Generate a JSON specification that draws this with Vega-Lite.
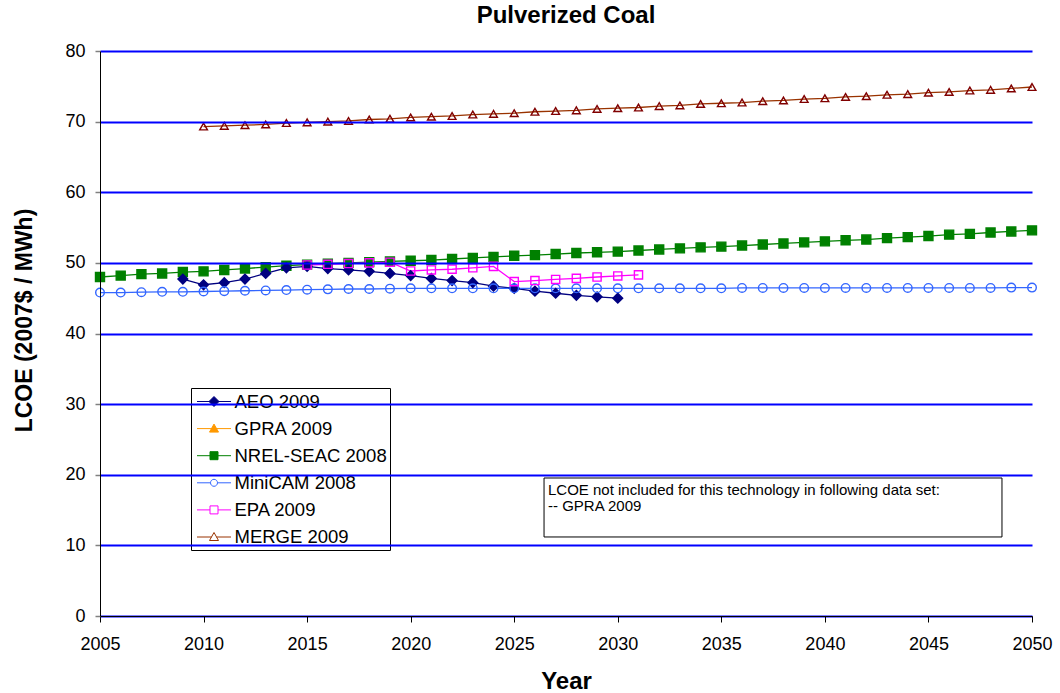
{
  "$schema": "https://vega.github.io/schema/vega-lite/v6.json",
  "width": 932,
  "height": 565,
  "autosize": "none",
  "padding": {"left": 100, "top": 51, "right": 28, "bottom": 77},
  "background": "white",
  "title": {"text": "Pulverized Coal", "fontSize": 24, "font": "Liberation Sans", "fontWeight": "bold", "color": "black", "anchor": "middle", "baseline": "alphabetic", "offset": -5},
  "config": {
    "view": {"stroke": null},
    "font": "Liberation Sans",
    "legend": {"orient": "none", "legendX": 91, "legendY": 337}
  },
  "data": {"values": [
    {"series": "NREL-SEAC 2008", "year": 2005, "value": 48.0},
    {"series": "NREL-SEAC 2008", "year": 2006, "value": 48.2},
    {"series": "NREL-SEAC 2008", "year": 2007, "value": 48.4},
    {"series": "NREL-SEAC 2008", "year": 2008, "value": 48.5},
    {"series": "NREL-SEAC 2008", "year": 2009, "value": 48.7},
    {"series": "NREL-SEAC 2008", "year": 2010, "value": 48.8},
    {"series": "NREL-SEAC 2008", "year": 2011, "value": 49.0},
    {"series": "NREL-SEAC 2008", "year": 2012, "value": 49.2},
    {"series": "NREL-SEAC 2008", "year": 2013, "value": 49.4},
    {"series": "NREL-SEAC 2008", "year": 2014, "value": 49.6},
    {"series": "NREL-SEAC 2008", "year": 2015, "value": 49.75},
    {"series": "NREL-SEAC 2008", "year": 2016, "value": 49.9},
    {"series": "NREL-SEAC 2008", "year": 2017, "value": 50.0},
    {"series": "NREL-SEAC 2008", "year": 2018, "value": 50.1},
    {"series": "NREL-SEAC 2008", "year": 2019, "value": 50.2},
    {"series": "NREL-SEAC 2008", "year": 2020, "value": 50.3},
    {"series": "NREL-SEAC 2008", "year": 2021, "value": 50.4},
    {"series": "NREL-SEAC 2008", "year": 2022, "value": 50.55},
    {"series": "NREL-SEAC 2008", "year": 2023, "value": 50.7},
    {"series": "NREL-SEAC 2008", "year": 2024, "value": 50.85},
    {"series": "NREL-SEAC 2008", "year": 2025, "value": 51.0},
    {"series": "NREL-SEAC 2008", "year": 2026, "value": 51.1},
    {"series": "NREL-SEAC 2008", "year": 2027, "value": 51.25},
    {"series": "NREL-SEAC 2008", "year": 2028, "value": 51.4},
    {"series": "NREL-SEAC 2008", "year": 2029, "value": 51.5},
    {"series": "NREL-SEAC 2008", "year": 2030, "value": 51.6},
    {"series": "NREL-SEAC 2008", "year": 2031, "value": 51.75},
    {"series": "NREL-SEAC 2008", "year": 2032, "value": 51.9},
    {"series": "NREL-SEAC 2008", "year": 2033, "value": 52.05},
    {"series": "NREL-SEAC 2008", "year": 2034, "value": 52.2},
    {"series": "NREL-SEAC 2008", "year": 2035, "value": 52.3},
    {"series": "NREL-SEAC 2008", "year": 2036, "value": 52.45},
    {"series": "NREL-SEAC 2008", "year": 2037, "value": 52.6},
    {"series": "NREL-SEAC 2008", "year": 2038, "value": 52.75},
    {"series": "NREL-SEAC 2008", "year": 2039, "value": 52.9},
    {"series": "NREL-SEAC 2008", "year": 2040, "value": 53.05},
    {"series": "NREL-SEAC 2008", "year": 2041, "value": 53.2},
    {"series": "NREL-SEAC 2008", "year": 2042, "value": 53.3},
    {"series": "NREL-SEAC 2008", "year": 2043, "value": 53.5},
    {"series": "NREL-SEAC 2008", "year": 2044, "value": 53.65},
    {"series": "NREL-SEAC 2008", "year": 2045, "value": 53.8},
    {"series": "NREL-SEAC 2008", "year": 2046, "value": 54.0},
    {"series": "NREL-SEAC 2008", "year": 2047, "value": 54.1},
    {"series": "NREL-SEAC 2008", "year": 2048, "value": 54.3},
    {"series": "NREL-SEAC 2008", "year": 2049, "value": 54.45},
    {"series": "NREL-SEAC 2008", "year": 2050, "value": 54.6},
    {"series": "AEO 2009", "year": 2009, "value": 47.7},
    {"series": "AEO 2009", "year": 2010, "value": 46.9},
    {"series": "AEO 2009", "year": 2011, "value": 47.2},
    {"series": "AEO 2009", "year": 2012, "value": 47.7},
    {"series": "AEO 2009", "year": 2013, "value": 48.5},
    {"series": "AEO 2009", "year": 2014, "value": 49.3},
    {"series": "AEO 2009", "year": 2015, "value": 49.5},
    {"series": "AEO 2009", "year": 2016, "value": 49.2},
    {"series": "AEO 2009", "year": 2017, "value": 49.0},
    {"series": "AEO 2009", "year": 2018, "value": 48.8},
    {"series": "AEO 2009", "year": 2019, "value": 48.5},
    {"series": "AEO 2009", "year": 2020, "value": 48.2},
    {"series": "AEO 2009", "year": 2021, "value": 47.8},
    {"series": "AEO 2009", "year": 2022, "value": 47.5},
    {"series": "AEO 2009", "year": 2023, "value": 47.2},
    {"series": "AEO 2009", "year": 2024, "value": 46.7},
    {"series": "AEO 2009", "year": 2025, "value": 46.4},
    {"series": "AEO 2009", "year": 2026, "value": 46.0},
    {"series": "AEO 2009", "year": 2027, "value": 45.7},
    {"series": "AEO 2009", "year": 2028, "value": 45.4},
    {"series": "AEO 2009", "year": 2029, "value": 45.2},
    {"series": "AEO 2009", "year": 2030, "value": 45.0},
    {"series": "MiniCAM 2008", "year": 2005, "value": 45.8},
    {"series": "MiniCAM 2008", "year": 2006, "value": 45.8},
    {"series": "MiniCAM 2008", "year": 2007, "value": 45.85},
    {"series": "MiniCAM 2008", "year": 2008, "value": 45.9},
    {"series": "MiniCAM 2008", "year": 2009, "value": 45.9},
    {"series": "MiniCAM 2008", "year": 2010, "value": 45.95},
    {"series": "MiniCAM 2008", "year": 2011, "value": 46.0},
    {"series": "MiniCAM 2008", "year": 2012, "value": 46.05},
    {"series": "MiniCAM 2008", "year": 2013, "value": 46.1},
    {"series": "MiniCAM 2008", "year": 2014, "value": 46.15},
    {"series": "MiniCAM 2008", "year": 2015, "value": 46.2},
    {"series": "MiniCAM 2008", "year": 2016, "value": 46.25},
    {"series": "MiniCAM 2008", "year": 2017, "value": 46.3},
    {"series": "MiniCAM 2008", "year": 2018, "value": 46.3},
    {"series": "MiniCAM 2008", "year": 2019, "value": 46.35},
    {"series": "MiniCAM 2008", "year": 2020, "value": 46.4},
    {"series": "MiniCAM 2008", "year": 2021, "value": 46.4},
    {"series": "MiniCAM 2008", "year": 2022, "value": 46.4},
    {"series": "MiniCAM 2008", "year": 2023, "value": 46.4},
    {"series": "MiniCAM 2008", "year": 2024, "value": 46.4},
    {"series": "MiniCAM 2008", "year": 2025, "value": 46.4},
    {"series": "MiniCAM 2008", "year": 2026, "value": 46.4},
    {"series": "MiniCAM 2008", "year": 2027, "value": 46.4},
    {"series": "MiniCAM 2008", "year": 2028, "value": 46.4},
    {"series": "MiniCAM 2008", "year": 2029, "value": 46.4},
    {"series": "MiniCAM 2008", "year": 2030, "value": 46.4},
    {"series": "MiniCAM 2008", "year": 2031, "value": 46.4},
    {"series": "MiniCAM 2008", "year": 2032, "value": 46.4},
    {"series": "MiniCAM 2008", "year": 2033, "value": 46.4},
    {"series": "MiniCAM 2008", "year": 2034, "value": 46.4},
    {"series": "MiniCAM 2008", "year": 2035, "value": 46.4},
    {"series": "MiniCAM 2008", "year": 2036, "value": 46.45},
    {"series": "MiniCAM 2008", "year": 2037, "value": 46.45},
    {"series": "MiniCAM 2008", "year": 2038, "value": 46.45},
    {"series": "MiniCAM 2008", "year": 2039, "value": 46.45},
    {"series": "MiniCAM 2008", "year": 2040, "value": 46.45},
    {"series": "MiniCAM 2008", "year": 2041, "value": 46.45},
    {"series": "MiniCAM 2008", "year": 2042, "value": 46.45},
    {"series": "MiniCAM 2008", "year": 2043, "value": 46.45},
    {"series": "MiniCAM 2008", "year": 2044, "value": 46.45},
    {"series": "MiniCAM 2008", "year": 2045, "value": 46.45},
    {"series": "MiniCAM 2008", "year": 2046, "value": 46.45},
    {"series": "MiniCAM 2008", "year": 2047, "value": 46.45},
    {"series": "MiniCAM 2008", "year": 2048, "value": 46.45},
    {"series": "MiniCAM 2008", "year": 2049, "value": 46.5},
    {"series": "MiniCAM 2008", "year": 2050, "value": 46.5},
    {"series": "EPA 2009", "year": 2015, "value": 49.7},
    {"series": "EPA 2009", "year": 2016, "value": 49.8},
    {"series": "EPA 2009", "year": 2017, "value": 49.9},
    {"series": "EPA 2009", "year": 2018, "value": 50.0},
    {"series": "EPA 2009", "year": 2019, "value": 50.1},
    {"series": "EPA 2009", "year": 2020, "value": 48.85},
    {"series": "EPA 2009", "year": 2021, "value": 49.0},
    {"series": "EPA 2009", "year": 2022, "value": 49.1},
    {"series": "EPA 2009", "year": 2023, "value": 49.3},
    {"series": "EPA 2009", "year": 2024, "value": 49.5},
    {"series": "EPA 2009", "year": 2025, "value": 47.35},
    {"series": "EPA 2009", "year": 2026, "value": 47.5},
    {"series": "EPA 2009", "year": 2027, "value": 47.65},
    {"series": "EPA 2009", "year": 2028, "value": 47.8},
    {"series": "EPA 2009", "year": 2029, "value": 48.0},
    {"series": "EPA 2009", "year": 2030, "value": 48.15},
    {"series": "EPA 2009", "year": 2031, "value": 48.3},
    {"series": "MERGE 2009", "year": 2010, "value": 69.3},
    {"series": "MERGE 2009", "year": 2011, "value": 69.4},
    {"series": "MERGE 2009", "year": 2012, "value": 69.5},
    {"series": "MERGE 2009", "year": 2013, "value": 69.6},
    {"series": "MERGE 2009", "year": 2014, "value": 69.8},
    {"series": "MERGE 2009", "year": 2015, "value": 69.9},
    {"series": "MERGE 2009", "year": 2016, "value": 70.0},
    {"series": "MERGE 2009", "year": 2017, "value": 70.1},
    {"series": "MERGE 2009", "year": 2018, "value": 70.3},
    {"series": "MERGE 2009", "year": 2019, "value": 70.4},
    {"series": "MERGE 2009", "year": 2020, "value": 70.6},
    {"series": "MERGE 2009", "year": 2021, "value": 70.7},
    {"series": "MERGE 2009", "year": 2022, "value": 70.8},
    {"series": "MERGE 2009", "year": 2023, "value": 71.0},
    {"series": "MERGE 2009", "year": 2024, "value": 71.1},
    {"series": "MERGE 2009", "year": 2025, "value": 71.2},
    {"series": "MERGE 2009", "year": 2026, "value": 71.4},
    {"series": "MERGE 2009", "year": 2027, "value": 71.5},
    {"series": "MERGE 2009", "year": 2028, "value": 71.6},
    {"series": "MERGE 2009", "year": 2029, "value": 71.8},
    {"series": "MERGE 2009", "year": 2030, "value": 71.9},
    {"series": "MERGE 2009", "year": 2031, "value": 72.0},
    {"series": "MERGE 2009", "year": 2032, "value": 72.2},
    {"series": "MERGE 2009", "year": 2033, "value": 72.3},
    {"series": "MERGE 2009", "year": 2034, "value": 72.5},
    {"series": "MERGE 2009", "year": 2035, "value": 72.6},
    {"series": "MERGE 2009", "year": 2036, "value": 72.7},
    {"series": "MERGE 2009", "year": 2037, "value": 72.9},
    {"series": "MERGE 2009", "year": 2038, "value": 73.0},
    {"series": "MERGE 2009", "year": 2039, "value": 73.2},
    {"series": "MERGE 2009", "year": 2040, "value": 73.3},
    {"series": "MERGE 2009", "year": 2041, "value": 73.5},
    {"series": "MERGE 2009", "year": 2042, "value": 73.6},
    {"series": "MERGE 2009", "year": 2043, "value": 73.8},
    {"series": "MERGE 2009", "year": 2044, "value": 73.9},
    {"series": "MERGE 2009", "year": 2045, "value": 74.1},
    {"series": "MERGE 2009", "year": 2046, "value": 74.2},
    {"series": "MERGE 2009", "year": 2047, "value": 74.4},
    {"series": "MERGE 2009", "year": 2048, "value": 74.5},
    {"series": "MERGE 2009", "year": 2049, "value": 74.7},
    {"series": "MERGE 2009", "year": 2050, "value": 74.9}
  ]},
  "encoding": {
    "x": {"field": "year", "type": "quantitative",
      "scale": {"domain": [2005, 2050], "nice": false, "zero": false},
      "axis": {"values": [2005, 2010, 2015, 2020, 2025, 2030, 2035, 2040, 2045, 2050], "format": "d", "grid": false,
        "domainColor": "black", "domainWidth": 1, "tickColor": "black", "tickSize": 6, "tickWidth": 1,
        "labelFontSize": 18, "labelColor": "black", "labelPadding": 13, "labelFlush": false, "labelOverlap": false,
        "title": "Year", "titleFontSize": 24, "titleFontWeight": "bold", "titleColor": "black",
        "titleY": 72, "titleBaseline": "alphabetic", "zindex": 1}},
    "y": {"field": "value", "type": "quantitative",
      "scale": {"domain": [0, 80], "nice": false},
      "axis": {"values": [0, 10, 20, 30, 40, 50, 60, 70, 80], "grid": true, "gridColor": "#0000FF", "gridWidth": 2,
        "domainColor": "black", "domainWidth": 1, "tickColor": "#808080", "tickSize": 5, "tickWidth": 1.5,
        "labelFontSize": 18, "labelColor": "black", "labelPadding": 10,
        "title": "LCOE (2007$ / MWh)", "titleFontSize": 23, "titleFontWeight": "bold", "titleColor": "black",
        "titleX": -76, "titleY": 269, "titleAngle": -90, "titleAlign": "center", "titleBaseline": "middle", "zindex": 1}}
  },
  "layer": [
    {
      "mark": {"type": "line", "strokeWidth": 1.3},
      "encoding": {
        "detail": {"field": "series"},
        "stroke": {"field": "series", "type": "nominal", "legend": null,
          "scale": {"domain": ["AEO 2009", "GPRA 2009", "NREL-SEAC 2008", "MiniCAM 2008", "EPA 2009", "MERGE 2009"],
            "range": ["#000080", "#FF9900", "#008000", "#3366FF", "#FF00FF", "#993300"]}}
      }
    },
    {
      "mark": {"type": "point", "strokeWidth": 1.4, "opacity": 1},
      "encoding": {
        "stroke": {"field": "series", "type": "nominal", "legend": null,
          "scale": {"domain": ["AEO 2009", "GPRA 2009", "NREL-SEAC 2008", "MiniCAM 2008", "EPA 2009", "MERGE 2009"],
            "range": ["#000080", "#FF9900", "#008000", "#3366FF", "#FF00FF", "#800000"]}},
        "fill": {"field": "series", "type": "nominal", "legend": null,
          "scale": {"domain": ["AEO 2009", "GPRA 2009", "NREL-SEAC 2008", "MiniCAM 2008", "EPA 2009", "MERGE 2009"],
            "range": ["#000080", "#FF9900", "#008000", "transparent", "transparent", "transparent"]}},
        "shape": {"field": "series", "type": "nominal", "legend": null,
          "scale": {"domain": ["AEO 2009", "GPRA 2009", "NREL-SEAC 2008", "MiniCAM 2008", "EPA 2009", "MERGE 2009"],
            "range": ["diamond", "triangle-up", "square", "circle", "square", "triangle-up"]}},
        "size": {"field": "series", "type": "nominal", "legend": null,
          "scale": {"domain": ["AEO 2009", "GPRA 2009", "NREL-SEAC 2008", "MiniCAM 2008", "EPA 2009", "MERGE 2009"],
            "range": [95, 60, 72, 50, 55, 58]}}
      }
    },
    {
      "transform": [{"filter": "false"}],
      "mark": {"type": "point", "strokeWidth": 1, "opacity": 1},
      "encoding": {
        "stroke": {"field": "series", "type": "nominal",
          "legend": {"title": null, "orient": "none", "legendX": 91, "legendY": 337, "padding": 3, "strokeColor": "black", "fillColor": "white",
            "symbolSize": 400, "symbolStrokeWidth": 1, "symbolOffset": 9.5, "labelOffset": 10, "rowPadding": 7.1,
            "labelFontSize": 18.5, "labelColor": "black", "labelFont": "Liberation Sans", "labelLimit": 300},
          "scale": {"domain": ["AEO 2009", "GPRA 2009", "NREL-SEAC 2008", "MiniCAM 2008", "EPA 2009", "MERGE 2009"],
            "range": ["#000080", "#FF9900", "#008000", "#3366FF", "#FF00FF", "#993300"]}},
        "fill": {"field": "series", "type": "nominal",
          "legend": {"title": null, "orient": "none", "legendX": 91, "legendY": 337, "padding": 3, "strokeColor": "black", "fillColor": "white",
            "symbolSize": 400, "symbolStrokeWidth": 1, "symbolOffset": 9.5, "labelOffset": 10, "rowPadding": 7.1,
            "labelFontSize": 18.5, "labelColor": "black", "labelFont": "Liberation Sans", "labelLimit": 300},
          "scale": {"domain": ["AEO 2009", "GPRA 2009", "NREL-SEAC 2008", "MiniCAM 2008", "EPA 2009", "MERGE 2009"],
            "range": ["#000080", "#FF9900", "#008000", "white", "white", "white"]}},
        "shape": {"field": "series", "type": "nominal",
          "legend": {"title": null, "orient": "none", "legendX": 91, "legendY": 337, "padding": 3, "strokeColor": "black", "fillColor": "white",
            "symbolSize": 400, "symbolStrokeWidth": 1, "symbolOffset": 9.5, "labelOffset": 10, "rowPadding": 7.1,
            "labelFontSize": 18.5, "labelColor": "black", "labelFont": "Liberation Sans", "labelLimit": 300},
          "scale": {"domain": ["AEO 2009", "GPRA 2009", "NREL-SEAC 2008", "MiniCAM 2008", "EPA 2009", "MERGE 2009"],
            "range": [
              "M-1.7,0H1.7M-0.5,0L0,-0.5L0.5,0L0,0.5Z",
              "M-1.7,0H1.7M-0.45,0.35L0,-0.45L0.45,0.35Z",
              "M-1.7,0H1.7M-0.4,-0.4H0.4V0.4H-0.4Z",
              "M-1.7,0H-0.35M0.35,0H1.7M-0.35,0A0.35,0.35,0,1,0,0.35,0A0.35,0.35,0,1,0,-0.35,0Z",
              "M-1.7,0H-0.4M0.4,0H1.7M-0.4,-0.4H0.4V0.4H-0.4Z",
              "M-1.7,0H-0.25M0.25,0H1.7M-0.45,0.35L0,-0.45L0.45,0.35Z"
            ]}}
      }
    },
    {
      "transform": [{"filter": "datum.series == 'AEO 2009' && datum.year == 2009"}],
      "mark": {"type": "rect", "fill": "white", "stroke": "black", "strokeWidth": 1},
      "encoding": {
        "x": {"datum": 2026.44},
        "x2": {"datum": 2048.55},
        "y": {"datum": 19.54},
        "y2": {"datum": 11.19}
      }
    },
    {
      "transform": [{"filter": "datum.series == 'AEO 2009' && datum.year == 2009"}],
      "mark": {"type": "text", "text": ["LCOE not included for this technology in following data set:", "-- GPRA 2009"],
        "align": "left", "baseline": "alphabetic", "fontSize": 15, "lineHeight": 15.5, "color": "black", "font": "Liberation Sans"},
      "encoding": {
        "x": {"datum": 2026.63},
        "y": {"datum": 17.1}
      }
    }
  ],
  "resolve": {"scale": {"stroke": "independent", "fill": "independent", "shape": "independent"}}
}
